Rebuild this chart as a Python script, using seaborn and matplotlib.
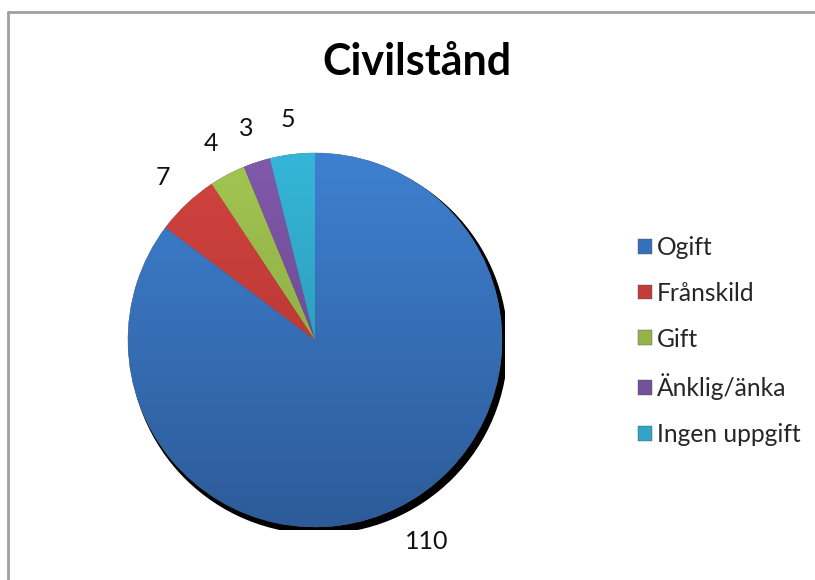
import seaborn as sns
import matplotlib.pyplot as plt
import numpy as np
from matplotlib.colors import LinearSegmentedColormap
from matplotlib.lines import Line2D
from matplotlib.patches import Circle

# Civilstånd data
categories = ["Ogift", "Frånskild", "Gift", "Änklig/änka", "Ingen uppgift"]
values = [110, 7, 4, 3, 5]

# top / bottom shades for the Excel-like gradient
top_colors = ["#3e80d0", "#d3433f", "#a3c652", "#8159ab", "#35b6d8"]
bottom_colors = ["#2d5b99", "#a5312e", "#7d9a3a", "#5f3f83", "#2789a5"]
mid_colors = ["#3670ba", "#c23d39", "#94b44a", "#72509a", "#30a5c5"]

sns.set_theme(style="white")
plt.rcParams["font.family"] = ["Lato", "DejaVu Sans"]

fig = plt.figure(figsize=(8.15, 5.8), dpi=100)
ax = fig.add_axes([(315 - 190) / 815, (580 - 340 - 190) / 580, 380 / 815, 380 / 580])

total = sum(values)
wedges, texts, autotexts = ax.pie(
    values, colors=mid_colors, startangle=90, counterclock=False,
    autopct=lambda p: "{:.0f}".format(p * total / 100), pctdistance=1.19,
    wedgeprops=dict(linewidth=0.3, edgecolor="#555555"),
    textprops=dict(fontsize=18, color="#111111"))
# the big slice label sits a bit further out in the reference
x, y = autotexts[0].get_position()
autotexts[0].set_position((x * 1.12, y * 1.01))

# drop shadow behind the pie
ax.add_patch(Circle((0.02, -0.026), 1.008, color="black", zorder=0.5))

# vertical gradient clipped to each wedge
grad = np.linspace(0, 1, 256).reshape(-1, 1)
for w, c0, c1 in zip(wedges, top_colors, bottom_colors):
    cmap = LinearSegmentedColormap.from_list("g", [c0, c1])
    im = ax.imshow(grad, extent=(-1, 1, -1, 1), cmap=cmap, origin="upper",
                   aspect="auto", zorder=1.5, interpolation="bicubic")
    im.set_clip_path(w)

lim = 190 / 187
ax.set_xlim(-lim, lim)
ax.set_ylim(-lim, lim)
ax.set_aspect("equal")
ax.axis("off")

fig.text(417 / 815, 1 - 62 / 580, "Civilstånd", ha="center", va="center",
         fontsize=31, fontweight="bold", color="black")

fig.legend(wedges, categories, loc="center left",
           bbox_to_anchor=(626 / 815, 1 - 341 / 580), frameon=False,
           fontsize=17.7, handlelength=0.55, handleheight=0.55, handletextpad=0.2,
           labelspacing=0.93, borderpad=0)

# chart border (left and top)
fig.add_artist(Line2D([8 / 815, 8 / 815], [0, 1 - 12 / 580], transform=fig.transFigure,
                      color="#a0a0a0", lw=2))
fig.add_artist(Line2D([8 / 815, 1], [1 - 12 / 580, 1 - 12 / 580], transform=fig.transFigure,
                      color="#a0a0a0", lw=2))

fig.savefig("out.png", dpi=100)
